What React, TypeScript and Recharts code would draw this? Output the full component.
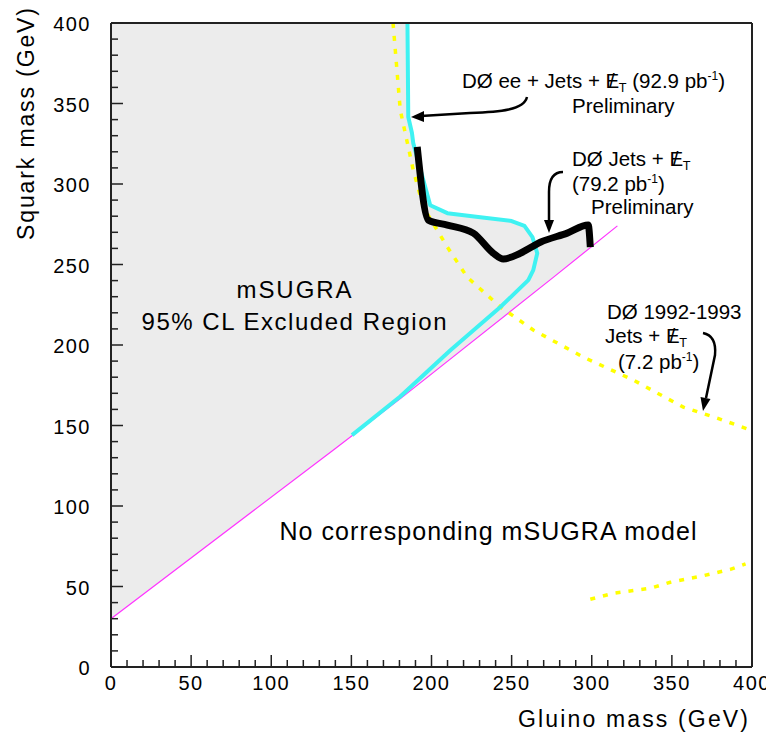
import React from "react";
import { ComposedChart, Area, Line, XAxis, YAxis } from "recharts";

// axis ticks (labelled every 50 GeV, small ticks every 10 GeV)
const majorTicks = [0, 50, 100, 150, 200, 250, 300, 350, 400];
const allTicks = Array.from({ length: 41 }, (_, i) => i * 10);

// "no corresponding mSUGRA model" boundary (magenta)
const magentaX = [0, 139, 181, 276, 316];
const magentaY = [30, 135, 167, 242, 274];

// D0 ee + jets + MET (cyan)
const cyanX = [185, 185.5, 187.8, 188.6, 199.2, 209.9, 230.5, 250, 258, 263, 266, 263.5, 260.4, 243, 219, 211.8, 180.5, 150.4];
const cyanY = [400, 341.6, 331.7, 325.4, 286.8, 281.9, 279.4, 277, 274, 267, 257, 246.5, 240.3, 223.6, 203, 196.7, 168, 144];

// D0 jets + MET 79.2 pb-1 (black)
const blackX = [191.1, 198, 209.9, 226.1, 238.6, 244.8, 255.4, 267.9, 284.7, 297.8, 299.1];
const blackY = [323, 277.6, 274.5, 269.5, 257, 253.4, 257, 263.8, 269.5, 274.5, 260.8];

// D0 1992-1993 jets + MET (yellow dotted)
const yellowX = [176, 180.5, 188.6, 194.9, 209.9, 222.3, 243, 263.5, 294.7, 326, 357.1, 378.3, 399];
const yellowY = [400, 346, 308.7, 285.7, 260.8, 242.1, 223.6, 209.3, 192.5, 178.2, 161.4, 154.6, 147.2];
const yellowLowX = [299.1, 313.5, 336.6, 349, 367.8, 386.5, 396];
const yellowLowY = [42.1, 45.8, 48.9, 52.6, 56.3, 60.6, 64];

// excluded region (gray): lower and upper edge
const grayX = [0, 139, 185, 185.5, 188.6, 199.2, 209.9, 230.5, 250, 258, 263, 264.3, 267.9, 284.7, 297.8, 299.1];
const grayLow = [30, 135, 170.5, 171, 173, 181, 190, 206, 221, 227.5, 231.5, 232.5, 235.5, 249, 259.5, 260.8];
const grayHigh = [400, 400, 400, 341.6, 325.4, 286.8, 281.9, 279.4, 277, 274, 267, 262.3, 263.8, 269.5, 274.5, 260.8];

const toPts = (xs: number[], ys: number[]) => xs.map((x, i) => ({ x, y: ys[i] }));
const grayData = grayX.map((x, i) => ({ x, band: [grayLow[i], grayHigh[i]] }));

const FONT = "'Liberation Sans', Arial, Helvetica, sans-serif";

function makeTick(side: string) {
  return (props: any) => {
    const { x, y, payload } = props;
    const v = payload.value;
    const major = majorTicks.includes(v);
    const len = major ? 12 : 7;
    let tl: any = null;
    let label: any = null;
    if (side === "bottom") {
      tl = <line x1={x} x2={x} y1={y} y2={y - len} stroke="#222" strokeWidth={1.5} />;
      if (major)
        label = (
          <text x={x} y={y + 23} textAnchor="middle" fontSize={20} letterSpacing={1.5} fontFamily={FONT} fill="#000">
            {v}
          </text>
        );
    } else if (side === "top") {
      tl = <line x1={x} x2={x} y1={y} y2={y + len} stroke="#222" strokeWidth={1.5} />;
    } else if (side === "left") {
      tl = <line x1={x} x2={x + len} y1={y} y2={y} stroke="#222" strokeWidth={1.5} />;
      if (major)
        label = (
          <text x={x - 20} y={y + 8} textAnchor="end" fontSize={20} letterSpacing={1.5} fontFamily={FONT} fill="#000">
            {v}
          </text>
        );
    } else {
      tl = <line x1={x} x2={x - len} y1={y} y2={y} stroke="#222" strokeWidth={1.5} />;
    }
    return (
      <g>
        {tl}
        {label}
      </g>
    );
  };
}

// E with slash, subscript T
function MetT({ size }: { size: number }) {
  return (
    <>
      <tspan>E</tspan>
      <tspan dx={-0.5 * size}>/</tspan>
      <tspan dx={0.2 * size} dy={4} fontSize={size * 0.62}>T</tspan>
      <tspan dy={-4}> </tspan>
    </>
  );
}

function PbInv({ lumi }: { lumi: string }) {
  return (
    <>
      ({lumi} pb
      <tspan dy={-8} fontSize={12}>-1</tspan>
      <tspan dy={8}>)</tspan>
    </>
  );
}

function Annotations() {
  const t = { fontFamily: FONT, fontSize: 20.5, fill: "#000" };
  return (
    <svg width={774} height={737} style={{ position: "absolute", left: 0, top: 0, pointerEvents: "none" }}>
      {/* axis titles */}
      <text x={748} y={727} textAnchor="end" fontFamily={FONT} fontSize={23} textLength={230} fill="#000">
        Gluino mass (GeV)
      </text>
      <text transform="translate(34,124) rotate(-90)" textAnchor="middle" fontFamily={FONT} fontSize={23} textLength={232} fill="#000">
        Squark mass (GeV)
      </text>

      {/* region labels */}
      <text x={294} y={298} textAnchor="middle" fontFamily={FONT} fontSize={24} textLength={115} fill="#000">
        mSUGRA
      </text>
      <text x={294} y={330} textAnchor="middle" fontFamily={FONT} fontSize={24} textLength={305} fill="#000">
        95% CL Excluded Region
      </text>
      <text x={488} y={540} textAnchor="middle" fontFamily={FONT} fontSize={25} textLength={417} fill="#000">
        No corresponding mSUGRA model
      </text>

      {/* D0 ee + jets */}
      <text x={462} y={88} {...t}>
        DØ ee + Jets + <MetT size={20.5} /><PbInv lumi="92.9" />
      </text>
      <text x={572} y={113} {...t}>Preliminary</text>
      <path d="M527,97 C524,110 500,112 470,113 L421,116" stroke="#000" strokeWidth={2.5} fill="none" />
      <polygon points="411,117 424,111 424,122" fill="#000" />

      {/* D0 jets */}
      <text x={572} y={166} {...t}>
        DØ Jets + <MetT size={20.5} />
      </text>
      <text x={572} y={191} {...t}><PbInv lumi="79.2" /></text>
      <text x={591} y={214} {...t}>Preliminary</text>
      <path d="M563,172 C553,172 549,180 549,192 L549,222" stroke="#000" strokeWidth={2.5} fill="none" />
      <polygon points="549,233 544,220 554,220" fill="#000" />

      {/* D0 1992-1993 */}
      <text x={607} y={319} {...t}>DØ 1992-1993</text>
      <text x={605} y={343} {...t}>
        Jets + <MetT size={20.5} />
      </text>
      <text x={618} y={369} {...t}><PbInv lumi="7.2" /></text>
      <path d="M703,333 C713,335 716,344 715,355 L706,398" stroke="#000" strokeWidth={2.5} fill="none" />
      <polygon points="703,411 710.5,399 700.5,397" fill="#000" />
    </svg>
  );
}

export default function App() {
  const axisLine = { stroke: "#222", strokeWidth: 2 };
  return (
    <div style={{ position: "relative", width: 774, height: 737, margin: "-8px 0 0 -8px", background: "#fff" }}>
      <ComposedChart width={774} height={737} margin={{ top: 22, right: 21, bottom: 69, left: 110 }}>
        <Area
          data={grayData}
          dataKey="band"
          type="linear"
          fill="#ececec"
          fillOpacity={1}
          stroke="none"
          dot={false}
          activeDot={false}
          isAnimationActive={false}
        />
        <Line data={toPts(magentaX, magentaY)} dataKey="y" type="linear" stroke="#ff33ff" strokeWidth={1.2} dot={false} activeDot={false} isAnimationActive={false} />
        <Line data={toPts(yellowX, yellowY)} dataKey="y" type="linear" stroke="#ffff00" strokeWidth={3.5} strokeDasharray="5 8" dot={false} activeDot={false} isAnimationActive={false} />
        <Line data={toPts(yellowLowX, yellowLowY)} dataKey="y" type="linear" stroke="#ffff00" strokeWidth={3.5} strokeDasharray="5 8" dot={false} activeDot={false} isAnimationActive={false} />
        <Line data={toPts(cyanX, cyanY)} dataKey="y" type="linear" stroke="#3ff2f2" strokeWidth={4} strokeLinejoin="round" dot={false} activeDot={false} isAnimationActive={false} />
        <Line data={toPts(blackX, blackY)} dataKey="y" type="monotoneX" stroke="#000" strokeWidth={7} strokeLinejoin="round" dot={false} activeDot={false} isAnimationActive={false} />

        <XAxis dataKey="x" type="number" domain={[0, 400]} ticks={allTicks} interval={0} height={1} tickSize={0} tickMargin={0} tickLine={false} axisLine={axisLine} tick={makeTick("bottom")} />
        <XAxis xAxisId="top" orientation="top" type="number" domain={[0, 400]} ticks={allTicks} interval={0} height={1} tickSize={0} tickMargin={0} tickLine={false} axisLine={axisLine} tick={makeTick("top")} />
        <YAxis type="number" domain={[0, 400]} ticks={allTicks} interval={0} width={1} tickSize={0} tickMargin={0} tickLine={false} axisLine={axisLine} tick={makeTick("left")} />
        <YAxis yAxisId="right" orientation="right" type="number" domain={[0, 400]} ticks={allTicks} interval={0} width={1} tickSize={0} tickMargin={0} tickLine={false} axisLine={axisLine} tick={makeTick("right")} />
      </ComposedChart>
      <Annotations />
    </div>
  );
}
